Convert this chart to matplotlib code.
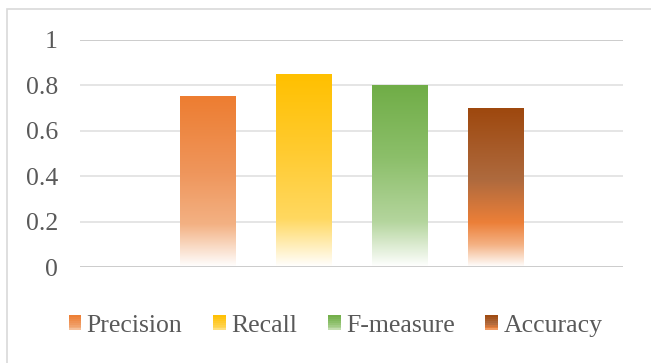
import numpy as np
import matplotlib
matplotlib.use("Agg")
import matplotlib.pyplot as plt
from matplotlib.colors import LinearSegmentedColormap
from matplotlib.patches import Rectangle
from matplotlib.legend_handler import HandlerBase

# Data
metrics = ["Precision", "Recall", "F-measure", "Accuracy"]
scores = [0.75, 0.85, 0.80, 0.70]
yticks = [0, 0.2, 0.4, 0.6, 0.8, 1]
ytick_labels = ["0", "0.2", "0.4", "0.6", "0.8", "1"]

# gradient stops per bar, relative height 0 (bottom) -> 1 (top)
gradients = {
    "Precision": [(0.0, "#FFFFFF"), (0.25, "#F3B183"), (0.55, "#EF965C"), (1.0, "#ED7D31")],
    "Recall": [(0.0, "#FFFFFF"), (0.25, "#FFD860"), (0.6, "#FFCB30"), (1.0, "#FFC000")],
    "F-measure": [(0.0, "#FFFFFF"), (0.25, "#B4D59D"), (0.6, "#8CBF6A"), (1.0, "#70AD47")],
    "Accuracy": [(0.0, "#FFFFFF"), (0.14, "#F4B183"), (0.28, "#EC7F38"), (0.55, "#AE6A3E"), (1.0, "#9E480E")],
}
cmaps = {k: LinearSegmentedColormap.from_list(k, v) for k, v in gradients.items()}

text_color = "#595959"
plt.rcParams["font.family"] = ["Liberation Serif", "DejaVu Serif"]

fig = plt.figure(figsize=(6.51, 3.63), dpi=100)
ax = fig.add_axes([80 / 651, 1 - 267 / 363, 543 / 651, 227 / 363])

# outer chart border (cropped on the right and bottom)
fig.patches.append(Rectangle((7 / 651, -0.05), 1.0, 1 - 9 / 363 + 0.05,
                             transform=fig.transFigure, fill=False,
                             edgecolor="#D9D9D9", linewidth=1.2))

x = np.arange(len(metrics))
width = 0.58
grad = np.linspace(0, 1, 256).reshape(-1, 1)
for xi, name, val in zip(x, metrics, scores):
    ax.imshow(grad, cmap=cmaps[name], origin="lower", aspect="auto",
              extent=(xi - width / 2, xi + width / 2, 0, val), zorder=3)

ax.set_xlim(-1.33, 4.33)
ax.set_ylim(0, 1)
ax.set_yticks(yticks)
ax.set_yticklabels(ytick_labels)
ax.set_xticks([])
for y in yticks:
    lc = "#C8C8C8" if y in (0, 1) else "#E3E3E3"
    ax.axhline(y, color=lc, linewidth=1.3, zorder=1 if y else 4)
for s in ax.spines.values():
    s.set_visible(False)
ax.tick_params(axis="y", length=0, pad=16, labelsize=18.5, labelcolor=text_color)


class GradientHandler(HandlerBase):
    def create_artists(self, legend, orig, xdescent, ydescent, width, height, fontsize, trans):
        cm = cmaps[orig.get_label()]
        n = 8
        arts = []
        for i in range(n):
            r = Rectangle((-xdescent, -ydescent + height * i / n), width, height / n + 0.3,
                          facecolor=cm(0.15 + 0.85 * (i + 0.5) / n), edgecolor="none",
                          transform=trans)
            arts.append(r)
        return arts


handles = [Rectangle((0, 0), 1, 1, label=m) for m in metrics]
fig.legend(handles=handles, labels=metrics, loc="center",
           bbox_to_anchor=(335.5 / 651, 1 - 326 / 363), ncol=4, frameon=False,
           fontsize=18.5, labelcolor=text_color, handlelength=0.5, handleheight=0.5,
           handletextpad=0.2, columnspacing=1.2,
           handler_map={Rectangle: GradientHandler()})

fig.savefig("out.png", dpi=100)
